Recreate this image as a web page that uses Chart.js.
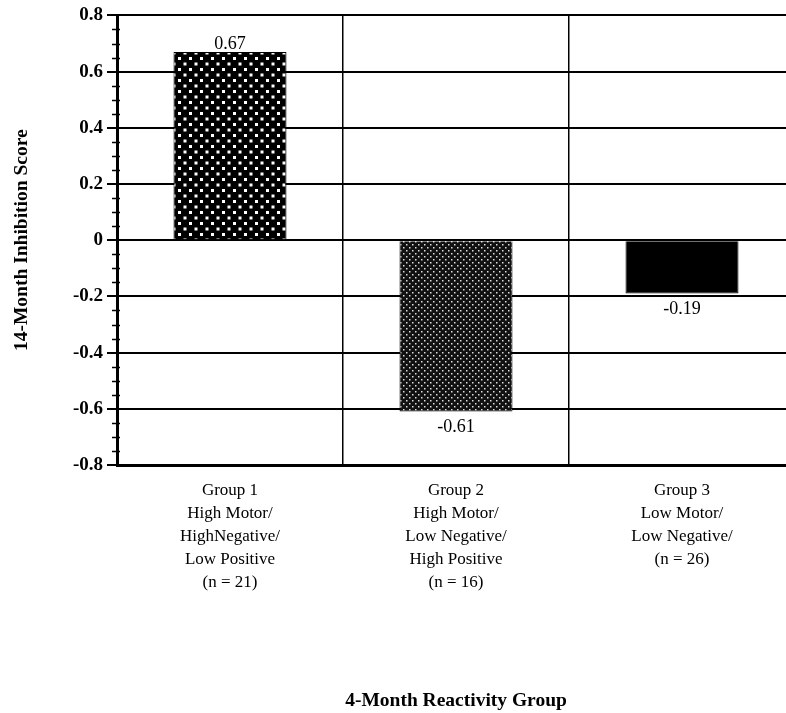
<!DOCTYPE html>
<html>
<head>
<meta charset="utf-8">
<script src="https://cdn.jsdelivr.net/npm/chart.js@4/dist/chart.umd.min.js"></script>
<style>
  html, body { margin: 0; padding: 0; background: #fff; overflow: hidden; }
  canvas { display: block; }
</style>
</head>
<body>
<canvas id="myChart" width="800" height="713"></canvas>
<script>
// data
var groups = [
    ['Group 1', 'High Motor/', 'HighNegative/', 'Low Positive', '(n = 21)'],
    ['Group 2', 'High Motor/', 'Low Negative/', 'High Positive', '(n = 16)'],
    ['Group 3', 'Low Motor/', 'Low Negative/', '(n = 26)']
];
var scores = [0.67, -0.61, -0.19];
var yMin = -0.8;
var yMax = 0.8;
var yStep = 0.2;

var serif = '"Liberation Serif", "Times New Roman", serif';

// black with white dots, coarse
function coarseDots() {
    var c = document.createElement('canvas');
    c.width = 11; c.height = 11;
    var g = c.getContext('2d');
    g.fillStyle = '#000';
    g.fillRect(0, 0, 11, 11);
    g.fillStyle = '#fff';
    g.fillRect(2, 2, 3, 3);
    g.fillRect(7.5, 7.5, 3, 3);
    return g.createPattern(c, 'repeat');
}

// fine dots, reads as dark grey
function fineDots() {
    var c = document.createElement('canvas');
    c.width = 6; c.height = 6;
    var g = c.getContext('2d');
    g.fillStyle = '#111';
    g.fillRect(0, 0, 6, 6);
    g.fillStyle = '#ddd';
    g.fillRect(1, 1, 1.5, 1.5);
    g.fillRect(4, 4, 1.5, 1.5);
    return g.createPattern(c, 'repeat');
}

// value labels above / below the bars
var valueLabels = {
    id: 'valueLabels',
    afterDatasetsDraw: function(chart) {
        var ctx = chart.ctx;
        var meta = chart.getDatasetMeta(0);
        ctx.save();
        ctx.fillStyle = '#000';
        ctx.font = '18px ' + serif;
        ctx.textAlign = 'center';
        meta.data.forEach(function(bar, i) {
            var v = scores[i];
            if (v >= 0) {
                ctx.textBaseline = 'bottom';
                ctx.fillText(v.toFixed(2), bar.x, bar.y + 1);
            } else {
                ctx.textBaseline = 'top';
                ctx.fillText(v.toFixed(2), bar.x, bar.y + 7);
            }
        });
        ctx.restore();
    }
};

// small minor ticks on the y axis
var minorTicks = {
    id: 'minorTicks',
    afterDraw: function(chart) {
        var s = chart.scales.y;
        var ctx = chart.ctx;
        var x = s.right;
        ctx.save();
        ctx.strokeStyle = '#000';
        ctx.lineWidth = 1.5;
        for (var i = -16; i <= 16; i++) {
            if (i % 4 === 0) continue;
            var y = Math.round(s.getPixelForValue(i * 0.05)) + 0.5;
            ctx.beginPath();
            ctx.moveTo(x - 5, y);
            ctx.lineTo(x + 3, y);
            ctx.stroke();
        }
        ctx.restore();
    }
};

var ctx = document.getElementById('myChart').getContext('2d');

var chart = new Chart(ctx, {
    type: 'bar',
    data: {
        labels: groups,
        datasets: [{
            data: scores,
            backgroundColor: [coarseDots(), fineDots(), '#000'],
            borderColor: '#000',
            borderWidth: 1,
            barPercentage: 0.5,
            categoryPercentage: 1.0
        }]
    },
    options: {
        responsive: false,
        animation: false,
        devicePixelRatio: 1,
        layout: { padding: { top: 15, right: 5, left: 0, bottom: 0 } },
        plugins: {
            legend: { display: false },
            tooltip: { enabled: false }
        },
        scales: {
            x: {
                afterFit: function(s) { s.height = 248; },
                grid: { color: '#000', lineWidth: 1.5, offset: true, drawTicks: false },
                border: { color: '#000', width: 3 },
                ticks: {
                    color: '#000',
                    padding: 14,
                    maxRotation: 0,
                    font: { family: serif, size: 17, lineHeight: 1.35 }
                },
                title: {
                    display: true,
                    text: '4-Month Reactivity Group',
                    color: '#000',
                    padding: { top: 0, bottom: 0 },
                    font: { family: serif, size: 19.5, weight: 'bold' }
                }
            },
            y: {
                min: yMin,
                max: yMax,
                afterFit: function(s) { s.width = 117; },
                grid: { color: '#000', lineWidth: 2, tickLength: 10, tickColor: '#000' },
                border: { color: '#000', width: 3 },
                ticks: {
                    stepSize: yStep,
                    color: '#000',
                    padding: 4,
                    font: { family: serif, size: 19, weight: 'bold' },
                    callback: function(v) {
                        if (Math.abs(v) < 1e-9) return '0';
                        return v.toFixed(1);
                    }
                },
                title: {
                    display: true,
                    text: '14-Month Inhibition Score',
                    color: '#000',
                    padding: { top: 10, bottom: 0 },
                    font: { family: serif, size: 19.5, weight: 'bold' }
                }
            }
        }
    },
    plugins: [valueLabels, minorTicks]
});
</script>
</body>
</html>
